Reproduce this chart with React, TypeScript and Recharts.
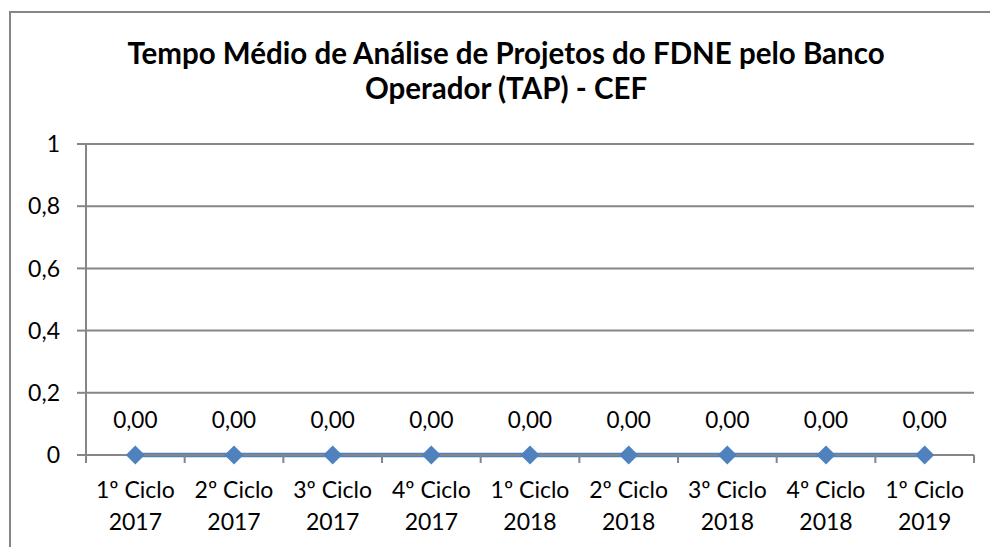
import { LineChart, Line, XAxis, YAxis, CartesianGrid, LabelList } from 'recharts'

const categories = [
  '1º Ciclo 2017',
  '2º Ciclo 2017',
  '3º Ciclo 2017',
  '4º Ciclo 2017',
  '1º Ciclo 2018',
  '2º Ciclo 2018',
  '3º Ciclo 2018',
  '4º Ciclo 2018',
  '1º Ciclo 2019',
]
const tapValues = [0, 0, 0, 0, 0, 0, 0, 0, 0]
const yTicks = [0, 0.2, 0.4, 0.6, 0.8, 1]

const data = categories.map((name, i) => ({ name, tap: tapValues[i] }))

const W = 990
const H = 547
const PLOT_LEFT = 86
const PLOT_RIGHT = 974
const PLOT_TOP = 144
const PLOT_BOTTOM = 455
const STEP = (PLOT_RIGHT - PLOT_LEFT) / categories.length
const GRAY = '#868686'
const BLUE = '#4F81BD'
const FONT = 'Lato, "Open Sans", sans-serif'

const comma = (v: number, digits?: number) =>
  (digits === undefined ? String(v) : v.toFixed(digits)).replace('.', ',')

function CategoryTick(props: any) {
  const { x, payload, index } = props
  const parts = String(payload.value).split(' ')
  const line1 = parts.slice(0, 2).join(' ')
  const line2 = parts.slice(2).join(' ')
  const last = index === categories.length - 1
  return (
    <g>
      <line x1={x - STEP / 2} x2={x - STEP / 2} y1={PLOT_BOTTOM} y2={PLOT_BOTTOM + 8} stroke={GRAY} strokeWidth={2} />
      {last && (
        <line x1={x + STEP / 2} x2={x + STEP / 2} y1={PLOT_BOTTOM} y2={PLOT_BOTTOM + 8} stroke={GRAY} strokeWidth={2} />
      )}
      <text x={x} y={PLOT_BOTTOM + 43} textAnchor="middle" fontSize={23} fill="#000" fontFamily={FONT}>
        {line1}
      </text>
      <text x={x} y={PLOT_BOTTOM + 75} textAnchor="middle" fontSize={23} fill="#000" fontFamily={FONT}>
        {line2}
      </text>
    </g>
  )
}

function Diamond(props: any) {
  const { cx, cy } = props
  if (cx == null || cy == null) return null
  const r = 9.5
  return <polygon points={`${cx},${cy - r} ${cx + r},${cy} ${cx},${cy + r} ${cx - r},${cy}`} fill={BLUE} />
}

function ValueLabel(props: any) {
  const { x, y, value } = props
  return (
    <text x={x} y={y - 27} textAnchor="middle" fontSize={22.5} fill="#000" fontFamily={FONT}>
      {comma(Number(value), 2)}
    </text>
  )
}

export default function App() {
  return (
    <div style={{ position: 'relative', width: W, height: H, overflow: 'hidden', background: '#fff' }}>
      <style>{'html,body{margin:0;padding:0;overflow:hidden;}'}</style>
      <svg width={W} height={H} style={{ position: 'absolute', left: 0, top: 0 }}>
        <polyline points={`10,${H} 10,12 ${W},12`} fill="none" stroke={GRAY} strokeWidth={2} />
      </svg>
      <div
        style={{
          position: 'absolute',
          left: 0,
          top: 35,
          width: W,
          paddingLeft: 22,
          boxSizing: 'border-box',
          textAlign: 'center',
          fontFamily: FONT,
          fontWeight: 700,
          fontSize: 29.5,
          lineHeight: '35px',
          color: '#000',
          whiteSpace: 'nowrap',
        }}
      >
        Tempo Médio de Análise de Projetos do FDNE pelo Banco
        <br />
        Operador (TAP) - CEF
      </div>
      <div style={{ position: 'absolute', left: 0, top: 0 }}>
        <LineChart
          width={W}
          height={H}
          data={data}
          margin={{ top: PLOT_TOP, right: W - PLOT_RIGHT, bottom: 0, left: 0 }}
        >
          <CartesianGrid vertical={false} stroke={GRAY} strokeWidth={2} />
          <XAxis
            dataKey="name"
            height={H - PLOT_BOTTOM}
            padding={{ left: STEP / 2, right: STEP / 2 }}
            axisLine={{ stroke: GRAY, strokeWidth: 2 }}
            tickLine={false}
            interval={0}
            tick={<CategoryTick />}
          />
          <YAxis
            width={PLOT_LEFT}
            domain={[0, 1]}
            ticks={yTicks}
            tickFormatter={(v: number) => comma(v)}
            axisLine={{ stroke: GRAY, strokeWidth: 2 }}
            tickLine={{ stroke: GRAY, strokeWidth: 2 }}
            tickSize={9}
            tickMargin={17}
            tick={{ fontSize: 23, fill: '#000', fontFamily: FONT }}
          />
          <Line
            dataKey="tap"
            stroke={BLUE}
            strokeWidth={4.5}
            dot={<Diamond />}
            activeDot={false}
            isAnimationActive={false}
          >
            <LabelList dataKey="tap" content={<ValueLabel />} />
          </Line>
        </LineChart>
      </div>
    </div>
  )
}
